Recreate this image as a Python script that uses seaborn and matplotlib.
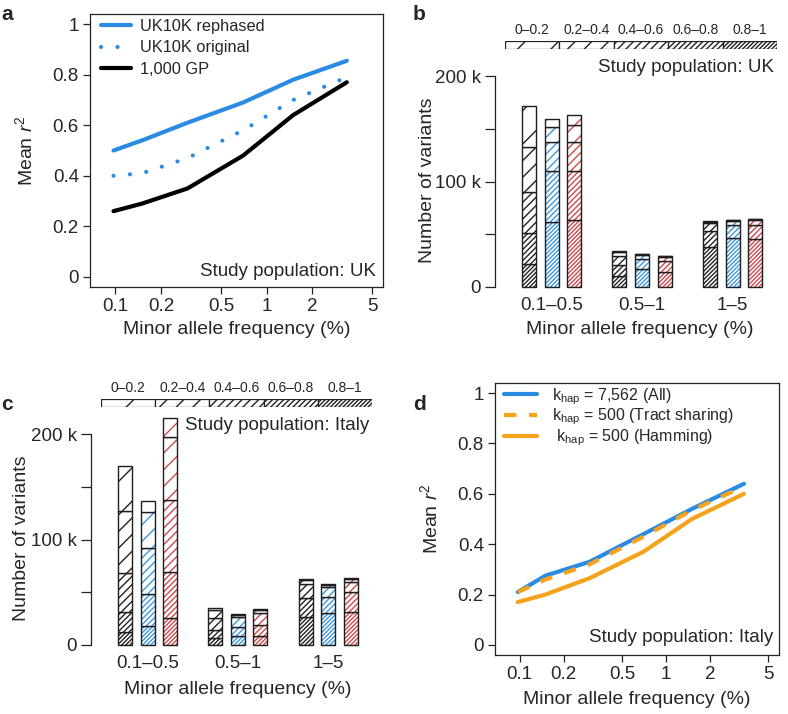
import matplotlib
matplotlib.use("Agg")
import matplotlib.pyplot as plt
import seaborn as sns

# ---- data ----
maf = [0.097, 0.15, 0.3, 0.7, 1.5, 3.4]
uk_rephased = [0.50, 0.54, 0.61, 0.69, 0.78, 0.855]
uk_original = [0.40, 0.41, 0.47, 0.58, 0.70, 0.79]
gp_1000 = [0.26, 0.29, 0.35, 0.48, 0.64, 0.77]

khap_all = [0.21, 0.275, 0.33, 0.44, 0.54, 0.64]
khap_tract = [0.21, 0.26, 0.32, 0.43, 0.535, 0.63]
khap_hamming = [0.17, 0.20, 0.265, 0.37, 0.50, 0.60]

maf_bins = ["0.1–0.5", "0.5–1", "1–5"]
r2_bins = ["0–0.2", "0.2–0.4", "0.4–0.6", "0.6–0.8", "0.8–1"]

# number of variants (thousands); rows = MAF bin, cols = r2 bin
uk_black = [[39.2, 42.7, 38.9, 29.1, 21.8], [1.0, 3.5, 8.8, 10.5, 10.4], [0.5, 1.2, 7.5, 15.2, 38.2]]
uk_blue = [[7.7, 14.1, 27.5, 49.0, 61.4], [0.3, 0.7, 4.0, 9.8, 16.8], [0.2, 0.6, 4.0, 12.0, 46.8]]
uk_red = [[8.8, 16.8, 27.2, 46.5, 63.6], [0.3, 0.7, 4.0, 10.2, 14.5], [0.4, 0.8, 4.5, 13.3, 45.5]]
it_black = [[42.7, 59.1, 36.4, 19.0, 12.6], [2.0, 7.5, 10.8, 8.2, 6.3], [1.0, 3.7, 13.6, 17.4, 26.9]]
it_blue = [[10.4, 34.8, 43.6, 30.1, 18.0], [0.6, 1.6, 9.5, 8.9, 8.5], [0.6, 1.7, 9.5, 15.7, 30.1]]
it_red = [[18.4, 59.4, 68.1, 44.2, 25.3], [0.8, 3.3, 11.1, 10.5, 8.5], [1.0, 2.5, 9.5, 19.0, 31.6]]

BLUE = "#2a8be2"
ORANGE = "#f5a21c"
HATCH_COLS = ["#222222", "#3f98df", "#cf4a4c"]
HATCHES = ["/", "//", "////", "//////", "////////"]

sns.set_style("ticks")
plt.rcParams["font.family"] = ["Liberation Sans", "DejaVu Sans"]
plt.rcParams["mathtext.fontset"] = "custom"
plt.rcParams["mathtext.rm"] = "Liberation Sans"
plt.rcParams["mathtext.it"] = "Liberation Sans:italic"
plt.rcParams["hatch.linewidth"] = 1.0
plt.rcParams["axes.linewidth"] = 0.9
plt.rcParams["xtick.major.width"] = 0.9
plt.rcParams["ytick.major.width"] = 0.9

W, H = 788, 714
fig = plt.figure(figsize=(W / 100, H / 100), dpi=100)
FS = 13.5      # tick labels / notes
LFS = 14       # axis titles
LEG = 11.8     # legends


def add_ax(l, t, r, b):
    ax = fig.add_axes([l / W, 1 - b / H, (r - l) / W, (b - t) / H])
    ax.box_px = (l, t, r, b)
    return ax


def fx(ax, px):
    l, t, r, b = ax.box_px
    return (px - l) / (r - l)


def fy(ax, py):
    l, t, r, b = ax.box_px
    return (b - py) / (b - t)


def ftext(px, py, s, **kw):
    fig.text(px / W, 1 - py / H, s, **kw)


def r2_panel(ax, series, ylab_x, xlab_y, note, note_xy):
    for vals, col, ls, lab in series:
        extra = {}
        if ls == "dot":
            extra = dict(linestyle=(0, (0.01, 3.95)), dash_capstyle="round")
        elif ls == "dash":
            extra = dict(linestyle=(0, (3, 3)))
        sns.lineplot(x=maf, y=vals, ax=ax, color=col, lw=3, label=lab, **extra)
    ax.set_xscale("log")
    ax.set_xlim(0.0678, 5.9)
    ax.set_ylim(-0.04, 1.04)
    ax.xaxis.set_major_locator(matplotlib.ticker.FixedLocator([0.1, 0.2, 0.5, 1, 2, 5]))
    ax.xaxis.set_major_formatter(matplotlib.ticker.FixedFormatter(["0.1", "0.2", "0.5", "1", "2", "5"]))
    ax.xaxis.set_minor_locator(matplotlib.ticker.NullLocator())
    ax.set_yticks([0, 0.2, 0.4, 0.6, 0.8, 1])
    ax.set_yticklabels(["0", "0.2", "0.4", "0.6", "0.8", "1"])
    ax.tick_params(labelsize=FS, length=5, color="#222222")
    ax.tick_params(axis="x", pad=3)
    ax.tick_params(axis="y", pad=3)
    for s in ax.spines.values():
        s.set_color("#222222")
    ax.set_xlabel("Minor allele frequency (%)", fontsize=LFS, va="center")
    ax.set_ylabel("Mean $\\mathit{r}^{2}$", fontsize=LFS, va="center")
    ax.xaxis.set_label_coords(0.5, fy(ax, xlab_y))
    ax.yaxis.set_label_coords(fx(ax, ylab_x), 0.5)
    ax.text(fx(ax, note_xy[0]), fy(ax, note_xy[1]), note, transform=ax.transAxes,
            ha="right", va="center", fontsize=FS)


def bar_panel(ax, series, ylab_x, xlab_y, xlab_cx):
    offsets = [-0.25, 0, 0.25]
    width = 0.155
    for k, (vals, hcol) in enumerate(series):
        for i in range(len(maf_bins)):
            bottom = 0
            for j in reversed(range(len(r2_bins))):
                h = vals[i][j]
                ax.bar(i + offsets[k], h, width, bottom=bottom, color="white",
                       edgecolor=hcol, hatch=HATCHES[j], lw=0)
                ax.bar(i + offsets[k], h, width, bottom=bottom, fill=False,
                       edgecolor="#1e1e1e", lw=1.0)
                bottom += h
    for s in ["top", "right", "bottom"]:
        ax.spines[s].set_visible(False)
    ax.spines["left"].set_bounds(0, 200)
    ax.spines["left"].set_color("#222222")
    ax.set_yticks([0, 50, 100, 150, 200])
    ax.set_yticklabels(["0", "", "100 k", "", "200 k"])
    ax.set_xticks(range(len(maf_bins)))
    ax.set_xticklabels(maf_bins)
    ax.tick_params(axis="y", labelsize=FS, pad=3, length=7, color="#222222")
    ax.tick_params(axis="x", labelsize=FS, pad=5, length=0)
    ax.set_xlabel("Minor allele frequency (%)", fontsize=LFS, va="center")
    ax.set_ylabel("Number of variants", fontsize=LFS, va="center")
    ax.xaxis.set_label_coords(fx(ax, xlab_cx), fy(ax, xlab_y))
    ax.yaxis.set_label_coords(fx(ax, ylab_x), fy(ax, ax.box_px[3] - 110))


def strip(ax):
    for j in range(len(r2_bins)):
        ax.barh(0, 1, left=j, height=1, color="white", edgecolor="#222222",
                hatch=HATCHES[j], lw=0)
        ax.barh(0, 1, left=j, height=1, fill=False, edgecolor="#222222", lw=0.9)
    ax.set_xlim(0, len(r2_bins))
    ax.set_ylim(-0.5, 0.5)
    ax.set_yticks([])
    ax.xaxis.tick_top()
    ax.set_xticks([j + 0.5 for j in range(len(r2_bins))])
    ax.set_xticklabels(r2_bins)
    ax.tick_params(axis="x", length=0, pad=3, labelsize=10)
    for s in ax.spines.values():
        s.set_visible(False)


# ---- panel a ----
ax_a = add_ax(90, 14, 383, 287)
r2_panel(ax_a, [(uk_rephased, BLUE, "-", "UK10K rephased"),
                (uk_original, BLUE, "dot", "UK10K original"),
                (gp_1000, "black", "-", "1,000 GP")],
         ylab_x=25, xlab_y=330, note="Study population: UK", note_xy=(376, 272))
ax_a.legend(loc="upper left", bbox_to_anchor=(fx(ax_a, 101), fy(ax_a, 19)), frameon=False,
            fontsize=LEG, handlelength=1.86, handletextpad=0.5, labelspacing=0.39,
            borderpad=0, borderaxespad=0)

# ---- panel b ----
ax_b = add_ax(495, 40, 778, 290)
ax_b.set_xlim(-0.624, 2.50)
ax_b.set_ylim(-2.85, 234.3)
bar_panel(ax_b, [(uk_black, HATCH_COLS[0]), (uk_blue, HATCH_COLS[1]), (uk_red, HATCH_COLS[2])],
          ylab_x=428, xlab_y=330, xlab_cx=640)
strip(add_ax(505, 41, 777, 49))
ftext(774, 68, "Study population: UK", ha="right", va="center", fontsize=FS)

# ---- panel c ----
ax_c = add_ax(91, 415, 380, 648)
ax_c.set_xlim(-0.626, 2.575)
ax_c.set_ylim(-2.85, 218.2)
bar_panel(ax_c, [(it_black, HATCH_COLS[0]), (it_blue, HATCH_COLS[1]), (it_red, HATCH_COLS[2])],
          ylab_x=22, xlab_y=690, xlab_cx=238)
strip(add_ax(101, 399, 372, 407))
ftext(185, 426, "Study population: Italy", ha="left", va="center", fontsize=FS)

# ---- panel d ----
ax_d = add_ax(495, 383, 779, 655)
r2_panel(ax_d, [(khap_all, BLUE, "-", "k$_{\\mathrm{hap}}$ = 7,562 (All)"),
                (khap_tract, ORANGE, "dash", "k$_{\\mathrm{hap}}$ = 500 (Tract sharing)"),
                (khap_hamming, ORANGE, "-", " k$_{\\mathrm{hap}}$ = 500 (Hamming)")],
         ylab_x=430, xlab_y=700, note="Study population: Italy", note_xy=(773, 637))
ax_d.legend(loc="upper left", bbox_to_anchor=(fx(ax_d, 504), fy(ax_d, 386)), frameon=False,
            fontsize=11.5, handlelength=2.08, handletextpad=0.92, labelspacing=0.0,
            borderpad=0, borderaxespad=0)

for lab, x, y in [("a", 7, 15), ("b", 419, 15), ("c", 7, 405), ("d", 419, 405)]:
    ftext(x, y, lab, ha="center", va="center", fontsize=15, fontweight="bold")

fig.savefig("out.png", dpi=100)
